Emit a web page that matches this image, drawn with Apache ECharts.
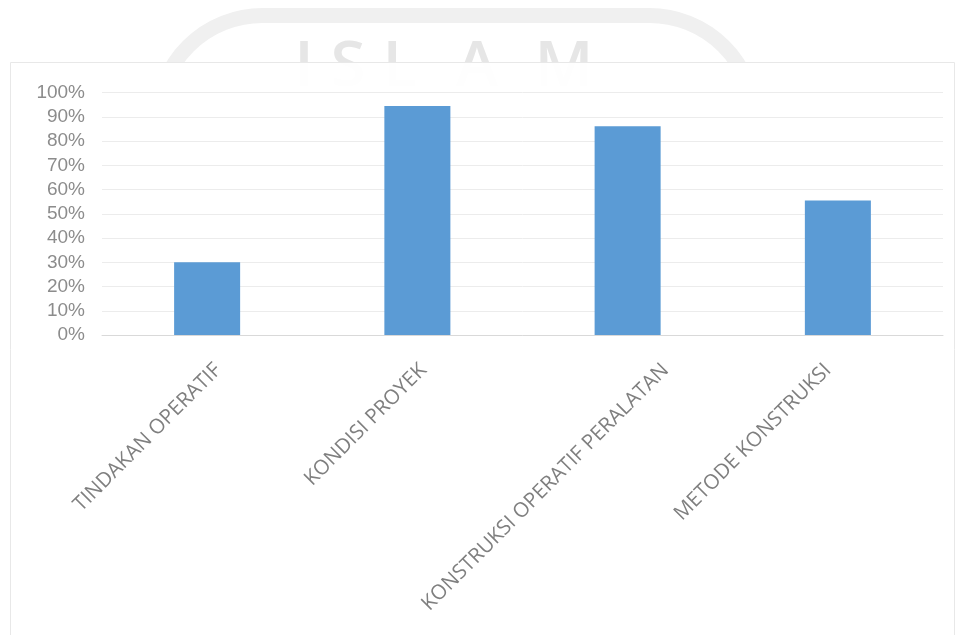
<!DOCTYPE html>
<html>
<head>
<meta charset="utf-8">
<script src="https://cdn.jsdelivr.net/npm/echarts@6/dist/echarts.min.js"></script>
<style>
html,body{margin:0;padding:0;background:#fff;}
#c{width:960px;height:635px;}
</style>
</head>
<body>
<div id="c"></div>
<script>
const categories = ['TINDAKAN OPERATIF', 'KONDISI PROYEK', 'KONSTRUKSI OPERATIF PERALATAN', 'METODE KONSTRUKSI'];
const values = [0.30, 0.945, 0.862, 0.555];
const yTicks = [0, 0.1, 0.2, 0.3, 0.4, 0.5, 0.6, 0.7, 0.8, 0.9, 1.0];

// horizontal nudges (px) of each rotated category label, as in the original layout
const labelShift = [11, 6, 38, -10];
const rich = {};
labelShift.forEach((dx, i) => {
  const k = dx * Math.SQRT1_2;
  rich['l' + i] = {
    color: '#7f7f7f', fontSize: 20.5, fontFamily: '"Open Sans", sans-serif',
    padding: dx >= 0 ? [2 * k, -k, 0, 0] : [0, -k, -2 * k, 0]
  };
});

const chart = echarts.init(document.getElementById('c'), null, {renderer: 'canvas'});
const wmLetters = [['I', 304], ['S', 348], ['L', 400], ['A', 477], ['M', 564]];
chart.setOption({
  backgroundColor: '#ffffff',
  animation: false,
  graphic: [
    {type: 'rect', z: -10, silent: true,
     shape: {x: 157.5, y: 15.5, width: 597, height: 300, r: 105},
     style: {fill: 'none', stroke: '#f0f0f0', lineWidth: 15}},
    ...wmLetters.map(([t, x]) => ({
      type: 'text', z: -9, silent: true,
      style: {text: t, x: x, y: 68, align: 'center', verticalAlign: 'middle',
              font: '600 64px "Open Sans"', fill: '#e6e6e6'}
    })),
    {type: 'rect', z: -5, silent: true,
     shape: {x: 10.5, y: 62.5, width: 944, height: 580},
     style: {fill: 'rgba(255,255,255,0.94)', stroke: '#e8e8e8', lineWidth: 1}}
  ],
  grid: {left: 102, right: 17, top: 92.7, bottom: 300, containLabel: false},
  xAxis: {
    type: 'category',
    data: categories,
    axisLine: {show: true, lineStyle: {color: '#d9d9d9', width: 1}},
    axisTick: {show: false},
    axisLabel: {
      interval: 0, rotate: 45, margin: 32,
      color: '#7f7f7f', fontSize: 20.5, fontFamily: '"Open Sans", sans-serif',
      formatter: (v, i) => '{l' + i + '|' + v + '}',
      rich: rich
    }
  },
  yAxis: {
    type: 'value', min: 0, max: 1, interval: 0.1,
    axisLine: {show: false}, axisTick: {show: false},
    splitLine: {lineStyle: {color: '#ececec', width: 1}},
    axisLabel: {
      margin: 17, color: '#8c8c8c', fontSize: 19,
      fontFamily: '"Liberation Sans", Arial, sans-serif',
      formatter: v => Math.round(v * 100) + '%'
    }
  },
  series: [{
    type: 'bar',
    data: values,
    barWidth: '31.4%',
    itemStyle: {color: '#5b9bd5'}
  }]
});
</script>
</body>
</html>
